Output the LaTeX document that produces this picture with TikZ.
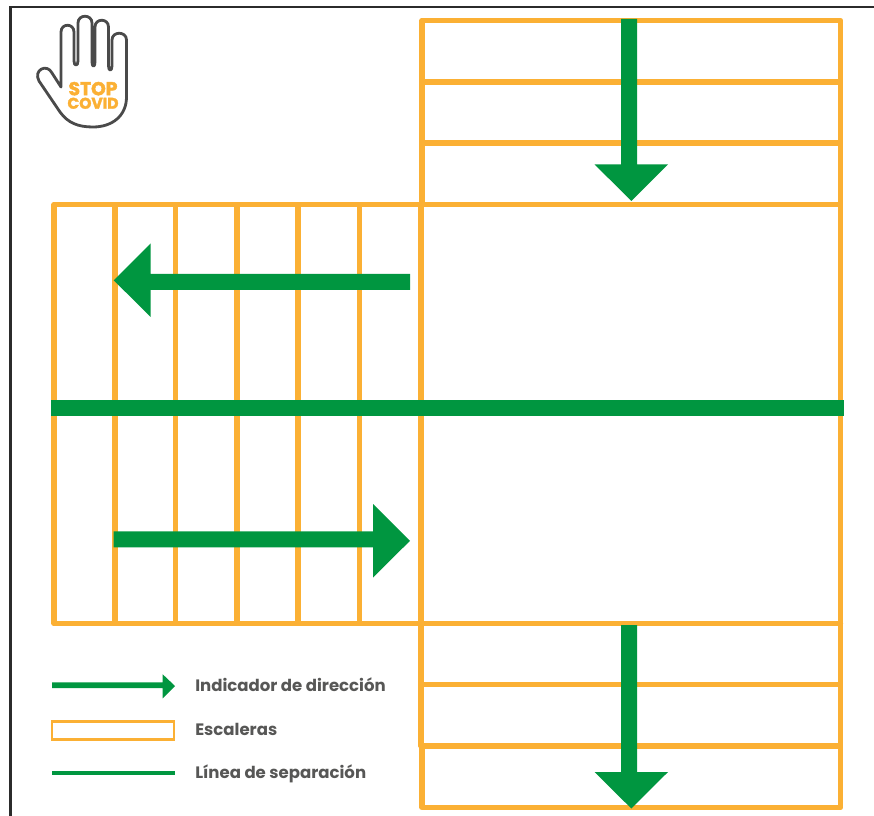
\documentclass[tikz,border=0pt]{standalone}
\usepackage{fontspec}
\setmainfont{Poppins}
\newfontfamily\stopfont[BoldFeatures={FakeBold=2.2}]{Poppins}
\definecolor{stair}{HTML}{FBB034}
\definecolor{arrowgreen}{HTML}{009640}
\definecolor{frameblk}{HTML}{2B2B2B}
\definecolor{handgray}{HTML}{4A4A4A}
\definecolor{labelgray}{HTML}{575756}
\tikzset{
  stairline/.style={draw=stair,line width=4pt,line cap=round,line join=round},
  stepline/.style={draw=stair,line width=4pt,line cap=butt},
  greenfill/.style={fill=arrowgreen,draw=none},
  legendlabel/.style={anchor=west,inner sep=0pt,text=labelgray,font=\fontsize{12.4}{14}\selectfont\bfseries},
  stoptext/.style={inner sep=0pt,text=stair,anchor=south,text height=0.7em,text depth=0pt}
}
\begin{document}
\begin{tikzpicture}[x=0.75pt,y=-0.75pt]
\useasboundingbox (0,0) rectangle (874,816);
\fill[white] (0,0) rectangle (874,816);
% frame
\draw[frameblk,line width=2pt] (10.7,816) -- (10.7,7) -- (874,7);
% upper flight
\draw[stairline] (422,20.3) rectangle (840.5,204.3);
\draw[stepline] (420,82) -- (840.5,82);
\draw[stepline] (420,143) -- (840.5,143);
% landing and lower flight
\draw[stairline] (54,204.3) rectangle (421,623.7);
\draw[stairline] (840.5,204.3) -- (840.5,746);
\draw[stairline] (421,623.7) -- (840.5,623.7);
\draw[stairline] (421,623.7) -- (421,746);
\draw[stairline] (422,746) -- (422,807.5) -- (840.5,807.5) -- (840.5,746);
\foreach \x in {115,175.7,237,298,359.3} \draw[stepline] (\x,204.3) -- (\x,625);
\draw[stepline] (419,684.7) -- (840.5,684.7);
\draw[stepline] (419,746) -- (840.5,746);
% green arrows
\fill[greenfill] (621,19) -- (637,19) -- (637,164.3) -- (668,164.3) -- (631.3,201) -- (594.5,164.3) -- (621,164.3) -- cycle;
\fill[greenfill] (621,625) -- (637,625) -- (637,772) -- (668,772) -- (631.3,808.5) -- (594.5,772) -- (621,772) -- cycle;
\fill[greenfill] (410,274) -- (410,290) -- (150.7,290) -- (150.7,317) -- (113.7,280.3) -- (150.7,243.3) -- (150.7,274) -- cycle;
\fill[greenfill] (113.5,531.3) -- (113.5,547.3) -- (373,547.3) -- (373,577.5) -- (410,540.8) -- (373,504) -- (373,531.3) -- cycle;
\fill[greenfill] (51,400) rectangle (844,416);
% legend
\fill[greenfill] (52,682.3) -- (162.7,682.3) -- (162.7,674.3) -- (175,686) -- (162.7,698.3) -- (162.7,688) -- (52,688) -- cycle;
\draw[stair,line width=2pt] (52,721.3) rectangle (174,739.7);
\fill[greenfill] (52,771) rectangle (175,775);
\node[legendlabel] (l1) at (195,684.5) {Indicador de dirección};
\node[legendlabel] (l2) at (195,729) {Escaleras};
\node[legendlabel] (l3) at (195,773.5) {Línea de separación};
% hand
\draw[handgray,line width=2.1pt,line join=round,line cap=round]
 (61,87) -- (61,32)
 .. controls (61,23) and (74,23) .. (74,32)
 -- (74,61) .. controls (74,66.5) and (78,66.5) .. (78,61)
 -- (78,23) .. controls (78,14) and (92,14) .. (92,23)
 -- (92,62) .. controls (92,67.5) and (95,67.5) .. (95,62)
 -- (95,27) .. controls (95,18) and (108.5,18) .. (108.5,27)
 -- (108.5,66) .. controls (108.5,71.5) and (112,71.5) .. (112,66)
 -- (112,40) .. controls (112,31) and (126.5,31) .. (126.5,40)
 -- (126.5,97) .. controls (126.5,116) and (112,127) .. (93,127)
 .. controls (78,127) and (68,123) .. (60,112)
 -- (39,81) .. controls (33,70) and (47,63) .. (52,73)
 -- cycle;
\node[stoptext,font=\stopfont\fontsize{14}{14}\selectfont\bfseries] (stop) at (93,95.5) {STOP};
\node[stoptext,font=\stopfont\fontsize{11.6}{12}\selectfont\bfseries] (covid) at (93,109) {COVID};
\end{tikzpicture}
\end{document}
